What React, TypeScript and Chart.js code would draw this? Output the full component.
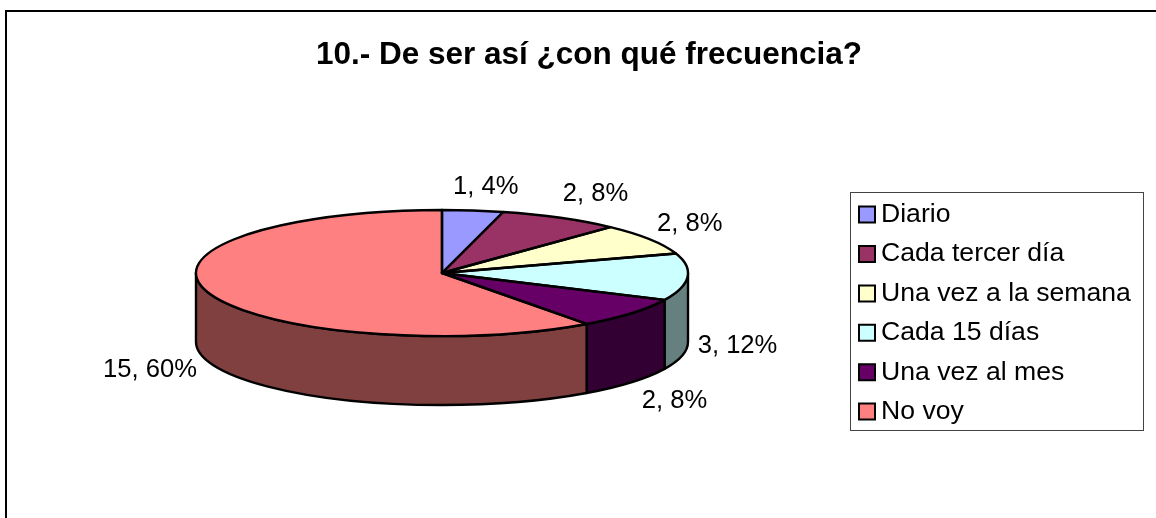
import React, { useEffect, useRef } from "react";
import { Chart, registerables } from "chart.js";

Chart.register(...registerables);

const categories = ["Diario", "Cada tercer día", "Una vez a la semana", "Cada 15 días", "Una vez al mes", "No voy"];
const counts = [1, 2, 2, 3, 2, 15];
const percents = [4, 8, 8, 12, 8, 60];
const topColors = ["#9999FF", "#993366", "#FFFFCC", "#CCFFFF", "#660066", "#FF8080"];
const sideColors = ["#4C4C80", "#4C1933", "#808066", "#668080", "#330033", "#804040"];
const titleText = "10.- De ser así ¿con qué frecuencia?";

const FONT = "'Liberation Sans', Arial, sans-serif";
const CX = 442, CY = 273, RX = 246, RY = 63, DEPTH = 69;
const LABEL_NUDGE = [[13, -24], [35, -24], [40, -15], [50, 69], [43, 88], [-58, 77]];
const LEGEND_BOX = { left: 850, top: 192, right: 1143, bottom: 430 };

const pie3d = {
  id: "pie3d",
  afterLayout(chart: any) {
    chart.titleBlock.left = 22;
    chart.titleBlock.right = 1156;
    const l = chart.legend;
    l.left = 853.5;
    l.right = LEGEND_BOX.right;
    l.top = 188.5;
    l.bottom = 522;
    l.width = l.right - l.left;
    l.height = l.bottom - l.top;
  },
  beforeDraw(chart: any) {
    const ctx = chart.ctx;
    ctx.save();
    ctx.fillStyle = "#fff";
    ctx.fillRect(0, 0, chart.width, chart.height);
    ctx.strokeStyle = "#000";
    ctx.lineWidth = 2;
    ctx.beginPath();
    ctx.moveTo(6, chart.height);
    ctx.lineTo(6, 11);
    ctx.lineTo(chart.width, 11);
    ctx.stroke();
    ctx.strokeStyle = "#444";
    ctx.lineWidth = 1;
    ctx.strokeRect(LEGEND_BOX.left + 0.5, LEGEND_BOX.top + 0.5, LEGEND_BOX.right - LEGEND_BOX.left, LEGEND_BOX.bottom - LEGEND_BOX.top);
    ctx.restore();
  },
  beforeDatasetsDraw(chart: any) {
    const ctx = chart.ctx;
    const arcs = chart.getDatasetMeta(0).data;
    ctx.save();
    ctx.strokeStyle = "#000";
    ctx.lineWidth = 2.4;
    ctx.lineJoin = "round";
    arcs.forEach((arc: any, i: number) => {
      const a0 = Math.max(arc.startAngle, 0);
      const a1 = Math.min(arc.endAngle, Math.PI);
      if (a1 <= a0) return;
      ctx.beginPath();
      ctx.ellipse(CX, CY, RX, RY, 0, a0, a1);
      ctx.ellipse(CX, CY + DEPTH, RX, RY, 0, a1, a0, true);
      ctx.closePath();
      ctx.fillStyle = sideColors[i];
      ctx.fill();
      ctx.stroke();
    });
    ctx.restore();
    const first = arcs[0];
    const R = first.outerRadius;
    ctx.save();
    ctx.translate(CX, CY);
    ctx.scale(RX / R, RY / R);
    ctx.translate(-first.x, -first.y);
  },
  afterDatasetsDraw(chart: any) {
    const ctx = chart.ctx;
    ctx.restore();
    const arcs = chart.getDatasetMeta(0).data;
    ctx.save();
    ctx.strokeStyle = "#000";
    ctx.lineWidth = 2.4;
    ctx.lineJoin = "round";
    arcs.forEach((arc: any) => {
      ctx.beginPath();
      ctx.moveTo(CX, CY);
      ctx.ellipse(CX, CY, RX, RY, 0, arc.startAngle, arc.endAngle);
      ctx.closePath();
      ctx.stroke();
    });
    ctx.fillStyle = "#000";
    ctx.font = `25.6px ${FONT}`;
    ctx.textAlign = "center";
    ctx.textBaseline = "middle";
    arcs.forEach((arc: any, i: number) => {
      const mid = (arc.startAngle + arc.endAngle) / 2;
      const x = CX + RX * Math.cos(mid) + LABEL_NUDGE[i][0];
      const y = CY + RY * Math.sin(mid) + LABEL_NUDGE[i][1];
      ctx.fillText(`${counts[i]}, ${percents[i]}%`, x, y);
    });
    ctx.restore();
  },
};

export default function App() {
  const ref = useRef<HTMLCanvasElement>(null);
  useEffect(() => {
    document.body.style.margin = "0";
    const chart = new Chart(ref.current!, {
      type: "pie",
      data: {
        labels: categories,
        datasets: [{ data: counts, backgroundColor: topColors, borderWidth: 0, clip: false } as any],
      },
      options: {
        responsive: false,
        animation: false,
        rotation: 0,
        plugins: {
          title: {
            display: true,
            text: titleText,
            color: "#000",
            font: { family: FONT, size: 31.5, weight: "bold" },
            padding: { top: 36, bottom: 10 },
          },
          tooltip: { enabled: false },
          legend: {
            display: true,
            position: "right",
            align: "start",
            labels: {
              color: "#000",
              font: { family: FONT, size: 26.6 },
              usePointStyle: true,
              pointStyle: "rect",
              boxWidth: 1.4,
              boxHeight: 16,
              padding: 12.8,
              generateLabels: (c: any) =>
                (Chart as any).overrides.pie.plugins.legend.labels
                  .generateLabels(c)
                  .map((it: any) => ({ ...it, strokeStyle: "#000", lineWidth: 2, pointStyle: "rect" })),
            },
          },
        },
      },
      plugins: [pie3d],
    } as any);
    return () => chart.destroy();
  }, []);
  return <canvas ref={ref} width={1156} height={518} style={{ display: "block" }} />;
}
